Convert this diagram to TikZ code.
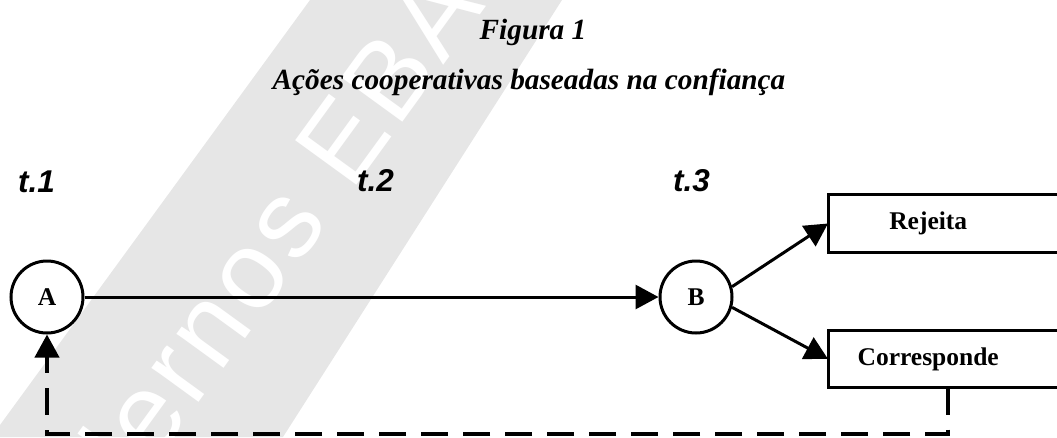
\documentclass[tikz,border=0pt]{standalone}
\usepackage{fontspec}
\setmainfont{Liberation Serif}
\newfontfamily\arialfont{Liberation Sans}
\newfontfamily\wmfont[LetterSpace=5]{Liberation Sans}
\usetikzlibrary{arrows.meta}
\definecolor{wmgray}{RGB}{230,230,230}
\begin{document}
\begin{tikzpicture}[x=1pt,y=-1pt,
  titlefont/.style={font=\bfseries\itshape\fontsize{29.3}{35}\selectfont, anchor=base, inner sep=0},
  tlabel/.style={font=\arialfont\bfseries\itshape\fontsize{31.5}{36}\selectfont, anchor=base west, inner sep=0},
  state/.style={circle, draw, line width=3pt, minimum size=72pt, inner sep=0,
    font=\bfseries\fontsize{25.5}{30}\selectfont},
  outcome/.style={minimum width=200pt, minimum height=57pt, inner sep=0, anchor=west,
    text height=18pt, text depth=6pt, font=\bfseries\fontsize{25.5}{30}\selectfont},
  boxline/.style={line width=3pt},
  flow/.style={line width=3pt, -{Triangle[length=23pt,width=24pt]}},
  feedback/.style={line width=4pt, dash pattern=on 27pt off 15pt, -{Triangle[length=23pt,width=24pt]}},
  wmtext/.style={text=white, font=\wmfont\fontsize{110}{130}\selectfont, rotate=54, anchor=base west, inner sep=0}]
\clip (0,0) rectangle (1057,437);
% watermark
\fill[wmgray] (310,0) -- (562,0) -- (283,437) -- (0,437) -- (0,425) -- cycle;
\begin{scope}
  \clip (310,0) -- (562,0) -- (283,437) -- (0,437) -- (0,425) -- cycle;
  \node[wmtext] (wm) at (27,639) {Cadernos EBAPE};
\end{scope}
% titles
\node[titlefont] (fig) at (533,39) {Figura 1};
\node[titlefont] (cap) at (529,89) {Ações cooperativas baseadas na confiança};
% time labels
\node[tlabel] (t1) at (18,192) {t.1};
\node[tlabel] (t2) at (357,191) {t.2};
\node[tlabel] (t3) at (673,191) {t.3};
% nodes
\node[state] (A) at (47,297) {A};
\node[state] (B) at (696,297) {B};
\node[outcome] (Rej) at (828,223.5) {Rejeita};
\node[outcome] (Cor) at (828,359) {Corresponde};
\draw[boxline] (Rej.south west) rectangle ([xshift=60pt]Rej.north east);
\draw[boxline] (Cor.south west) rectangle ([xshift=60pt]Cor.north east);
% connectors
\draw[flow] (A) -- (B);
\draw[flow] (B.16) -- (Rej.west);
\draw[flow] (B.-16) -- (Cor.west);
\draw[feedback] ([xshift=20pt]Cor.south) -- ++(0,46) -| (A);
\end{tikzpicture}
\end{document}
